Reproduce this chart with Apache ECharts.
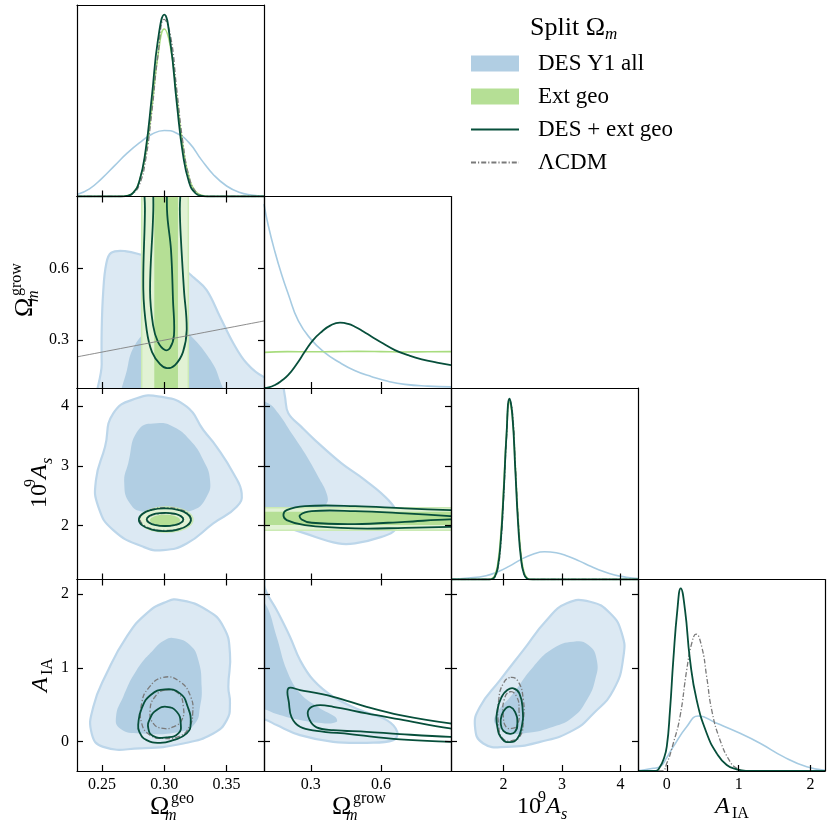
<!DOCTYPE html>
<html>
<head>
<meta charset="utf-8">
<script src="https://cdn.jsdelivr.net/npm/echarts@6/dist/echarts.min.js"></script>
<style>html,body{margin:0;padding:0;background:#fff}#chart{width:830px;height:830px}</style>
</head>
<body>
<div id="chart"></div>
<script>
const SERIF = "'Liberation Serif', 'DejaVu Serif', serif";

// axis limits and ticks
const omGeoRange = [0.23, 0.38];
const omGrowRange = [0.1, 0.9];
const asRange = [1.1, 4.3];
const aiaRange = [-0.4, 2.2];
const diagRange = [0, 1];
const omGeoTicks = [0.25, 0.30, 0.35];
const omGrowTicks = [0.3, 0.6];
const asTicks = [2, 3, 4];
const aiaTicks = [0, 1, 2];

// legend labels
const legendNames = ['DES Y1 all', 'Ext geo', 'DES + ext geo', 'ΛCDM'];

// 1D marginals [x, relative density]
const geo1D_des = [[0.23,0.01],[0.24,0.04],[0.25,0.095],[0.26,0.16],[0.27,0.225],[0.28,0.28],[0.29,0.325],[0.30,0.345],[0.31,0.33],[0.32,0.28],[0.33,0.19],[0.34,0.11],[0.35,0.055],[0.36,0.022],[0.37,0.008],[0.38,0.003]];
const geo1D_ext = [[0.23,0],[0.265,0],[0.27,0.004],[0.275,0.02],[0.28,0.08],[0.285,0.22],[0.29,0.46],[0.295,0.74],[0.30,0.875],[0.305,0.78],[0.31,0.52],[0.315,0.26],[0.32,0.097],[0.325,0.027],[0.33,0.006],[0.335,0],[0.38,0]];
const geo1D_lcdm = [[0.23,0],[0.265,0],[0.27,0.003],[0.275,0.016],[0.28,0.06],[0.285,0.19],[0.29,0.44],[0.295,0.74],[0.30,0.925],[0.305,0.84],[0.31,0.56],[0.315,0.28],[0.32,0.10],[0.325,0.027],[0.33,0.005],[0.335,0],[0.38,0]];
const geo1D_comb = [[0.23,0],[0.265,0],[0.27,0.0035],[0.275,0.019],[0.28,0.08],[0.285,0.24],[0.29,0.52],[0.295,0.82],[0.30,0.95],[0.305,0.80],[0.31,0.49],[0.315,0.22],[0.32,0.072],[0.325,0.017],[0.33,0.003],[0.335,0],[0.38,0]];

const grow1D_des = [[0.1,0.96],[0.118,0.85],[0.147,0.71],[0.176,0.59],[0.204,0.49],[0.247,0.35],[0.304,0.25],[0.36,0.185],[0.418,0.137],[0.49,0.09],[0.561,0.059],[0.63,0.035],[0.703,0.019],[0.8,0.01],[0.9,0.006]];
const grow1D_ext = [[0.1,0.186],[0.2,0.19],[0.3,0.189],[0.4,0.19],[0.5,0.191],[0.6,0.19],[0.7,0.188],[0.8,0.189],[0.9,0.19]];
const grow1D_comb = [[0.1,0],[0.12,0.003],[0.147,0.016],[0.175,0.038],[0.204,0.068],[0.24,0.125],[0.275,0.19],[0.31,0.25],[0.347,0.294],[0.385,0.327],[0.425,0.341],[0.46,0.335],[0.489,0.32],[0.525,0.295],[0.561,0.268],[0.61,0.232],[0.66,0.198],[0.72,0.17],[0.775,0.15],[0.84,0.133],[0.9,0.12]];

const as1D_des = [[1.1,0.003],[1.4,0.008],[1.7,0.02],[1.9,0.04],[2.1,0.07],[2.3,0.105],[2.5,0.132],[2.7,0.145],[2.9,0.14],[3.1,0.122],[3.3,0.096],[3.5,0.068],[3.7,0.043],[3.9,0.024],[4.1,0.012],[4.3,0.005]];
const as1D_ext = [[1.1,0],[1.75,0],[1.8,0.0045],[1.85,0.022],[1.9,0.081],[1.95,0.225],[2.0,0.475],[2.05,0.76],[2.1,0.925],[2.15,0.851],[2.2,0.594],[2.25,0.314],[2.3,0.126],[2.35,0.038],[2.4,0.009],[2.45,0.0015],[2.5,0],[4.3,0]];
const as1D_lcdm = [[1.1,0],[1.75,0],[1.8,0.002],[1.85,0.012],[1.9,0.054],[1.95,0.176],[2.0,0.42],[2.05,0.735],[2.1,0.94],[2.15,0.88],[2.2,0.61],[2.25,0.31],[2.3,0.115],[2.35,0.031],[2.4,0.006],[2.45,0.001],[2.5,0],[4.3,0]];
const as1D_comb = [[1.1,0],[1.75,0],[1.8,0.0025],[1.85,0.015],[1.9,0.062],[1.95,0.195],[2.0,0.448],[2.05,0.757],[2.1,0.944],[2.15,0.857],[2.2,0.574],[2.25,0.282],[2.3,0.102],[2.35,0.027],[2.4,0.005],[2.45,0.0005],[2.5,0],[4.3,0]];

const aia1D_des = [[-0.4,0.002],[-0.35,0.004],[-0.187,0.014],[-0.094,0.022],[0,0.07],[0.091,0.127],[0.277,0.231],[0.439,0.287],[0.695,0.249],[1.019,0.197],[1.297,0.145],[1.62,0.075],[1.946,0.022],[2.2,0.004]];
const aia1D_lcdm = [[-0.4,0],[-0.07,0],[0,0.04],[0.091,0.145],[0.184,0.284],[0.277,0.527],[0.347,0.667],[0.407,0.715],[0.486,0.649],[0.555,0.492],[0.625,0.318],[0.74,0.162],[0.88,0.049],[0.973,0.014],[1.1,0],[2.2,0]];
const aia1D_comb = [[-0.4,0],[-0.15,0],[-0.094,0.022],[-0.048,0.057],[0,0.127],[0.045,0.318],[0.091,0.58],[0.147,0.84],[0.194,0.954],[0.254,0.84],[0.323,0.58],[0.416,0.37],[0.555,0.197],[0.695,0.092],[0.834,0.031],[0.973,0.009],[1.1,0.001],[2.2,0]];

// 2D contours (outer = 95%, inner = 68%), [x, y] vertices
const geoGrow_des1 = [[0.2505,0.0],[0.2498,0.2],[0.2498,0.34],[0.2510,0.50],[0.2535,0.62],[0.2575,0.665],[0.2685,0.672],[0.2845,0.652],[0.3010,0.628],[0.3126,0.607],[0.3240,0.560],[0.3340,0.509],[0.3447,0.398],[0.3554,0.287],[0.3661,0.203],[0.3795,0.147],[0.40,0.12],[0.42,0.0]];
const geoGrow_des2 = [[0.2677,0.0],[0.2709,0.196],[0.2765,0.28],[0.2870,0.342],[0.2982,0.376],[0.3110,0.363],[0.3230,0.309],[0.3343,0.238],[0.3431,0.154],[0.3480,0.0]];
const geoGrow_ext1 = [[0.2819,-0.1],[0.2819,1.1],[0.3193,1.1],[0.3193,-0.1]];
const geoGrow_ext2 = [[0.2920,-0.1],[0.2920,1.1],[0.3110,1.1],[0.3110,-0.1]];
const geoGrow_comb1 = [[0.2845,1.2],[0.2845,0.844],[0.2832,0.51],[0.2859,0.342],[0.2902,0.25],[0.2966,0.2],[0.3022,0.183],[0.3086,0.196],[0.3150,0.25],[0.3180,0.342],[0.3158,0.51],[0.3134,0.718],[0.3125,0.844],[0.3125,1.2]];
const geoGrow_comb2 = [[0.2915,1.2],[0.2912,0.844],[0.2886,0.51],[0.2910,0.363],[0.2950,0.292],[0.3006,0.259],[0.3046,0.267],[0.3078,0.321],[0.3070,0.468],[0.3054,0.677],[0.3022,0.844],[0.3019,1.2]];
const equalityLine = [[0.23,0.23],[0.38,0.38]];

const geoAs_des1 = [[0.2779,4.128],[0.2966,4.155],[0.3180,3.987],[0.3313,3.598],[0.3420,3.318],[0.3554,2.874],[0.3621,2.539],[0.3581,2.315],[0.3393,2.037],[0.3180,1.703],[0.2992,1.591],[0.2832,1.646],[0.2591,1.925],[0.2471,2.315],[0.2452,2.762],[0.2525,3.318],[0.2591,3.877]];
const geoAs_des2 = [[0.2939,3.71],[0.3072,3.653],[0.3206,3.43],[0.3313,3.096],[0.3367,2.762],[0.3340,2.482],[0.3233,2.26],[0.3046,2.232],[0.2832,2.232],[0.2725,2.372],[0.2679,2.706],[0.2711,3.041],[0.2792,3.598]];
const geoAs_ext1 = [[0.3230,2.10],[0.3201,2.205],[0.3123,2.282],[0.3015,2.31],[0.2908,2.282],[0.2829,2.205],[0.2800,2.10],[0.2829,1.995],[0.2908,1.918],[0.3015,1.89],[0.3123,1.918],[0.3201,1.995]];
const geoAs_ext2 = [[0.3126,2.09],[0.3110,2.136],[0.3066,2.17],[0.3006,2.182],[0.2946,2.17],[0.2902,2.136],[0.2886,2.09],[0.2902,2.044],[0.2946,2.01],[0.3006,1.998],[0.3066,2.01],[0.3110,2.044]];
const geoAs_lcdm1 = [[0.3215,2.11],[0.3188,2.205],[0.3113,2.275],[0.301,2.30],[0.2908,2.275],[0.2832,2.205],[0.2805,2.11],[0.2832,2.015],[0.2908,1.945],[0.301,1.92],[0.3113,1.945],[0.3188,2.015]];
const geoAs_lcdm2 = [[0.3155,2.10],[0.3136,2.153],[0.3083,2.191],[0.301,2.205],[0.2938,2.191],[0.2884,2.153],[0.2865,2.10],[0.2884,2.048],[0.2938,2.009],[0.301,1.995],[0.3083,2.009],[0.3136,2.048]];
const geoAs_comb1 = [[0.3214,2.10],[0.3186,2.195],[0.3110,2.265],[0.3005,2.29],[0.2900,2.265],[0.2824,2.195],[0.2796,2.10],[0.2824,2.005],[0.2900,1.935],[0.3005,1.91],[0.3110,1.935],[0.3186,2.005]];
const geoAs_comb2 = [[0.3153,2.104],[0.3133,2.159],[0.3080,2.199],[0.3006,2.214],[0.2932,2.199],[0.2879,2.159],[0.2859,2.104],[0.2879,2.049],[0.2932,2.009],[0.3006,1.994],[0.3080,2.009],[0.3133,2.049]];

const growAs_des1 = [[0.05,4.6],[0.16,4.6],[0.177,4.434],[0.19,4.15],[0.204,3.877],[0.26,3.65],[0.318,3.43],[0.432,3.041],[0.532,2.762],[0.632,2.427],[0.675,2.148],[0.66,1.925],[0.603,1.813],[0.489,1.703],[0.418,1.703],[0.275,1.87],[0.147,2.037],[0.097,2.093],[0.05,2.1]];
const growAs_des2 = [[0.05,2.32],[0.204,2.29],[0.318,2.29],[0.368,2.372],[0.368,2.539],[0.332,2.817],[0.275,3.208],[0.218,3.543],[0.161,3.877],[0.118,4.044],[0.05,4.1]];
const growAs_ext1 = [[0.05,2.298],[1.0,2.298],[1.0,1.925],[0.05,1.925]];
const growAs_ext2 = [[0.05,2.232],[1.0,2.232],[1.0,2.009],[0.05,2.009]];
const growAs_comb1 = [[0.183,2.176],[0.197,2.26],[0.275,2.327],[0.489,2.327],[0.703,2.288],[0.896,2.26],[1.0,2.25],[1.0,1.98],[0.896,1.98],[0.703,1.963],[0.489,1.954],[0.275,2.009],[0.197,2.093]];
const growAs_comb2 = [[0.254,2.176],[0.304,2.243],[0.489,2.243],[0.703,2.205],[0.896,2.16],[1.0,2.14],[1.0,2.09],[0.896,2.104],[0.703,2.064],[0.489,2.026],[0.304,2.048],[0.261,2.104]];

const geoAia_des1 = [[0.3126,1.921],[0.334,1.786],[0.3474,1.559],[0.3527,1.197],[0.3514,0.744],[0.3527,0.518],[0.3501,0.291],[0.3393,0.11],[0.3153,-0.026],[0.2805,-0.093],[0.2511,-0.072],[0.2418,0.11],[0.2431,0.472],[0.2538,0.926],[0.2699,1.423],[0.2859,1.741],[0.3019,1.898]];
const geoAia_des2 = [[0.3086,1.401],[0.3206,1.31],[0.3273,1.106],[0.33,0.744],[0.3287,0.472],[0.3247,0.246],[0.3126,0.132],[0.2805,0.11],[0.2645,0.178],[0.2613,0.336],[0.2671,0.608],[0.2779,0.97],[0.2912,1.242],[0.3006,1.378]];
const geoAia_lcdm1 = [[0.2992,0.871],[0.3126,0.812],[0.3212,0.608],[0.3228,0.382],[0.3201,0.2],[0.3126,0.074],[0.2992,0.042],[0.2886,0.087],[0.2819,0.246],[0.2819,0.518],[0.2872,0.722]];
const geoAia_lcdm2 = [[0.3006,0.699],[0.3113,0.654],[0.3153,0.472],[0.314,0.291],[0.3072,0.2],[0.2992,0.178],[0.2912,0.246],[0.2886,0.427],[0.2926,0.608]];
const geoAia_comb1 = [[0.3006,0.708],[0.3126,0.654],[0.3188,0.472],[0.3212,0.246],[0.318,0.11],[0.3072,0.019],[0.2966,-0.017],[0.2859,0.019],[0.28,0.132],[0.2792,0.246],[0.2819,0.45],[0.2891,0.631]];
const geoAia_comb2 = [[0.3019,0.472],[0.31,0.404],[0.3132,0.246],[0.3113,0.11],[0.3019,0.056],[0.2912,0.074],[0.2872,0.178],[0.2886,0.314],[0.2939,0.427]];

const growAia_des1 = [[0.05,2.3],[0.1,2.3],[0.104,2.08],[0.154,1.786],[0.211,1.423],[0.254,1.106],[0.311,0.834],[0.396,0.608],[0.511,0.427],[0.625,0.291],[0.67,0.132],[0.653,0.019],[0.539,-0.017],[0.396,-0.004],[0.254,0.087],[0.154,0.223],[0.104,0.3],[0.05,0.32]];
const growAia_des2 = [[0.05,1.95],[0.104,1.877],[0.154,1.423],[0.197,0.97],[0.254,0.654],[0.34,0.45],[0.404,0.336],[0.411,0.268],[0.361,0.246],[0.254,0.291],[0.154,0.373],[0.104,0.436],[0.05,0.45]];
const growAia_comb1 = [[0.204,0.722],[0.254,0.699],[0.396,0.608],[0.539,0.472],[0.682,0.359],[0.896,0.246],[1.0,0.22],[1.0,-0.01],[0.896,-0.004],[0.682,0.029],[0.468,0.101],[0.325,0.146],[0.254,0.2],[0.218,0.328],[0.207,0.518]];
const growAia_comb2 = [[0.29,0.427],[0.325,0.49],[0.396,0.472],[0.539,0.382],[0.682,0.30],[0.896,0.178],[1.0,0.16],[1.0,0.06],[0.896,0.064],[0.682,0.101],[0.539,0.132],[0.396,0.155],[0.325,0.192],[0.294,0.30]];

const asAia_des1 = [[3.48,1.898],[3.823,1.741],[4.023,1.469],[4.05,1.151],[3.879,0.699],[3.537,0.382],[3.194,0.155],[2.624,-0.004],[2.054,-0.072],[1.653,-0.026],[1.511,0.2],[1.597,0.472],[1.939,0.834],[2.338,1.242],[2.739,1.65],[3.081,1.877]];
const asAia_des2 = [[3.194,1.355],[3.451,1.31],[3.595,1.106],[3.566,0.834],[3.424,0.563],[3.194,0.336],[2.852,0.2],[2.338,0.11],[2.054,0.132],[1.853,0.246],[1.883,0.382],[2.167,0.654],[2.509,1.015],[2.852,1.265]];
const asAia_lcdm1 = [[2.122,0.871],[2.252,0.812],[2.338,0.563],[2.338,0.291],[2.281,0.074],[2.122,0.01],[1.985,0.042],[1.917,0.2],[1.917,0.563],[1.996,0.79]];
const asAia_lcdm2 = [[2.11,0.676],[2.225,0.608],[2.264,0.427],[2.236,0.223],[2.139,0.178],[2.042,0.2],[1.996,0.336],[2.008,0.563]];
const asAia_comb1 = [[2.167,0.722],[2.27,0.654],[2.327,0.427],[2.31,0.2],[2.236,0.042],[2.11,-0.008],[1.978,0.033],[1.893,0.2],[1.893,0.427],[1.968,0.608],[2.064,0.699]];
const asAia_comb2 = [[2.11,0.472],[2.196,0.404],[2.236,0.246],[2.196,0.132],[2.11,0.105],[1.996,0.146],[1.951,0.246],[1.968,0.359],[2.037,0.45]];

// colours
const BLUE_LINE = '#a6cbe2', BLUE_OUT = '#dce9f3', BLUE_IN = '#b1cee3', BLUE_EDGE = '#bcd6ea';
const GREEN_LINE = '#a8dc7e', GREEN_OUT = '#e1f2d4', GREEN_IN = '#b5df95', GREEN_EDGE = '#cbeab4';
const DKGREEN = '#074f3b', GREY = '#7a7a7a';
const DASHDOT = [5, 2, 1.2, 2];

// panel layout
const COL_X = [77, 264, 451, 638], ROW_Y = [5, 196.5, 388, 579.5];
const PANEL_W = 187, PANEL_H = 191.5;
const params = [
  { range: omGeoRange, ticks: omGeoTicks, digits: 2 },
  { range: omGrowRange, ticks: omGrowTicks, digits: 1 },
  { range: asRange, ticks: asTicks, digits: 0 },
  { range: aiaRange, ticks: aiaTicks, digits: 0 }
];

function makeAxis(g, position, p, ticks, labels) {
  const lim = p ? p.range : diagRange;
  const vals = p ? p.ticks : undefined;
  return {
    type: 'value', gridIndex: g, position: position, min: lim[0], max: lim[1], z: 10,
    axisLine: { show: true, onZero: false, lineStyle: { color: '#000', width: 1.2 } },
    axisTick: { show: ticks, inside: true, length: 6, customValues: vals, lineStyle: { color: '#000', width: 1.2 } },
    axisLabel: {
      show: labels, customValues: vals, margin: position === 'left' ? 8 : 6,
      formatter: v => p ? Number(v).toFixed(p.digits) : '',
      fontFamily: SERIF, fontSize: 16, color: '#000'
    },
    splitLine: { show: false }
  };
}

const grids = [], xAxes = [], yAxes = [], panelOf = {};
for (let r = 0; r < 4; r++) {
  for (let c = 0; c <= r; c++) {
    const g = grids.length;
    panelOf[r + '_' + c] = g;
    grids.push({ left: COL_X[c], top: ROW_Y[r], width: PANEL_W, height: PANEL_H });
    const diag = r === c;
    xAxes.push(makeAxis(g, 'bottom', params[c], true, r === 3));
    xAxes.push(makeAxis(g, 'top', params[c], !diag, false));
    const py = diag ? null : params[r];
    yAxes.push(makeAxis(g, 'left', py, !diag, c === 0));
    yAxes.push(makeAxis(g, 'right', py, !diag, false));
  }
}
const P = (r, c) => panelOf[r + '_' + c];

function curve(g, data, color, width, dash, name) {
  return {
    type: 'line', name: name, xAxisIndex: 2 * g, yAxisIndex: 2 * g, data: data,
    symbol: 'none', showSymbol: false, smooth: 0.5, silent: true, z: 3,
    lineStyle: { color: color, width: width, type: dash || 'solid' },
    itemStyle: { color: color }
  };
}

function region(g, pts, style, smooth, name) {
  return {
    type: 'custom', name: name, xAxisIndex: 2 * g, yAxisIndex: 2 * g, data: pts, silent: true, z: 2,
    itemStyle: { color: style.fill !== 'none' ? style.fill : style.stroke },
    renderItem: function (params, api) {
      if (params.dataIndex !== 0) return null;
      const cs = params.coordSys;
      return {
        type: 'group',
        clipPath: { type: 'rect', shape: { x: cs.x, y: cs.y, width: cs.width, height: cs.height } },
        children: [{ type: 'polygon', shape: { points: pts.map(p => api.coord(p)), smooth: smooth }, style: style }]
      };
    }
  };
}

const desOuter = { fill: BLUE_OUT, stroke: BLUE_EDGE, lineWidth: 2.2 };
const desInner = { fill: BLUE_IN, stroke: 'none' };
const extOuter = { fill: GREEN_OUT, stroke: GREEN_EDGE, lineWidth: 1.5 };
const extInner = { fill: GREEN_IN, stroke: 'none' };
const combLine = { fill: 'none', stroke: DKGREEN, lineWidth: 1.8 };
const lcdmLine = { fill: 'none', stroke: GREY, lineWidth: 1.3, lineDash: DASHDOT };

const series = [];
// diagonal: Omega_m^geo
series.push(curve(P(0,0), geo1D_des, BLUE_LINE, 1.6));
series.push(curve(P(0,0), geo1D_ext, GREEN_LINE, 1.6));
series.push(curve(P(0,0), geo1D_lcdm, GREY, 1.3, DASHDOT, legendNames[3]));
series.push(curve(P(0,0), geo1D_comb, DKGREEN, 1.8, null, legendNames[2]));
// Omega_grow vs Omega_geo
series.push(region(P(1,0), geoGrow_des1, desOuter, 0.4));
series.push(region(P(1,0), geoGrow_des2, desInner, 0.4, legendNames[0]));
series.push(region(P(1,0), geoGrow_ext1, extOuter, 0));
series.push(region(P(1,0), geoGrow_ext2, extInner, 0, legendNames[1]));
series.push(region(P(1,0), geoGrow_comb1, combLine, 0.4));
series.push(region(P(1,0), geoGrow_comb2, combLine, 0.4));
series.push(curve(P(1,0), equalityLine, '#808080', 0.9));
// diagonal: Omega_m^grow
series.push(curve(P(1,1), grow1D_des, BLUE_LINE, 1.6));
series.push(curve(P(1,1), grow1D_ext, GREEN_LINE, 1.6));
series.push(curve(P(1,1), grow1D_comb, DKGREEN, 1.8));
// A_s vs Omega_geo
series.push(region(P(2,0), geoAs_des1, desOuter, 0.5));
series.push(region(P(2,0), geoAs_des2, desInner, 0.5));
series.push(region(P(2,0), geoAs_ext1, extOuter, 0.5));
series.push(region(P(2,0), geoAs_ext2, extInner, 0.5));
series.push(region(P(2,0), geoAs_lcdm1, lcdmLine, 0.5));
series.push(region(P(2,0), geoAs_lcdm2, lcdmLine, 0.5));
series.push(region(P(2,0), geoAs_comb1, combLine, 0.5));
series.push(region(P(2,0), geoAs_comb2, combLine, 0.5));
// A_s vs Omega_grow
series.push(region(P(2,1), growAs_des1, desOuter, 0.4));
series.push(region(P(2,1), growAs_des2, desInner, 0.4));
series.push(region(P(2,1), growAs_ext1, extOuter, 0));
series.push(region(P(2,1), growAs_ext2, extInner, 0));
series.push(region(P(2,1), growAs_comb1, combLine, 0.4));
series.push(region(P(2,1), growAs_comb2, combLine, 0.4));
// diagonal: A_s
series.push(curve(P(2,2), as1D_des, BLUE_LINE, 1.6));
series.push(curve(P(2,2), as1D_ext, GREEN_LINE, 1.6));
series.push(curve(P(2,2), as1D_lcdm, GREY, 1.3, DASHDOT));
series.push(curve(P(2,2), as1D_comb, DKGREEN, 1.8));
// A_IA vs Omega_geo
series.push(region(P(3,0), geoAia_des1, desOuter, 0.5));
series.push(region(P(3,0), geoAia_des2, desInner, 0.5));
series.push(region(P(3,0), geoAia_lcdm1, lcdmLine, 0.5));
series.push(region(P(3,0), geoAia_lcdm2, lcdmLine, 0.5));
series.push(region(P(3,0), geoAia_comb1, combLine, 0.5));
series.push(region(P(3,0), geoAia_comb2, combLine, 0.5));
// A_IA vs Omega_grow
series.push(region(P(3,1), growAia_des1, desOuter, 0.4));
series.push(region(P(3,1), growAia_des2, desInner, 0.4));
series.push(region(P(3,1), growAia_comb1, combLine, 0.4));
series.push(region(P(3,1), growAia_comb2, combLine, 0.4));
// A_IA vs A_s
series.push(region(P(3,2), asAia_des1, desOuter, 0.5));
series.push(region(P(3,2), asAia_des2, desInner, 0.5));
series.push(region(P(3,2), asAia_lcdm1, lcdmLine, 0.5));
series.push(region(P(3,2), asAia_lcdm2, lcdmLine, 0.5));
series.push(region(P(3,2), asAia_comb1, combLine, 0.5));
series.push(region(P(3,2), asAia_comb2, combLine, 0.5));
// diagonal: A_IA
series.push(curve(P(3,3), aia1D_des, BLUE_LINE, 1.6));
series.push(curve(P(3,3), aia1D_lcdm, GREY, 1.3, DASHDOT));
series.push(curve(P(3,3), aia1D_comb, DKGREEN, 1.8));

// axis titles with sub/superscripts
function mathLabel(x, y, rotation, parts) {
  return {
    type: 'group', x: x, y: y, rotation: rotation, silent: true,
    children: parts.map(p => ({
      type: 'text', x: p[1], y: p[2],
      style: { text: p[0], fontFamily: SERIF, fontSize: p[3], fontStyle: p[4] ? 'italic' : 'normal',
               fill: '#000', verticalAlign: 'middle', align: 'left' }
    }))
  };
}
const R90 = Math.PI / 2;
const graphics = [
  mathLabel(150, 807, 0, [['Ω', 0, 0, 26], ['geo', 21, -8, 16], ['m', 15, 9, 16, true]]),
  mathLabel(332, 807, 0, [['Ω', 0, 0, 26], ['grow', 21, -8, 16], ['m', 14, 9, 16, true]]),
  mathLabel(517, 807, 0, [['10', 0, 0, 24], ['9', 21, -9, 16], ['A', 29, 0, 24, true], ['s', 44, 8, 16, true]]),
  mathLabel(715, 807, 0, [['A', 0, 0, 24, true], ['IA', 17, 7, 16]]),
  mathLabel(25, 317, R90, [['Ω', 0, 0, 26], ['grow', 21, -8, 16], ['m', 15, 9, 16, true]]),
  mathLabel(40, 508, R90, [['10', 0, 0, 24], ['9', 21, -9, 16], ['A', 29, 0, 24, true], ['s', 44, 8, 16, true]]),
  mathLabel(41, 692, R90, [['A', 0, 0, 24, true], ['IA', 17, 7, 16]])
];

const hiddenMarker = { color: 'rgba(0,0,0,0)', borderWidth: 0, opacity: 0 };
const chart = echarts.init(document.getElementById('chart'), null, { renderer: 'canvas' });
chart.setOption({
  animation: false,
  backgroundColor: '#fff',
  textStyle: { fontFamily: SERIF },
  title: {
    text: '{a|Split Ω}{b|m}', left: 530, top: 13, padding: 0,
    textStyle: { fontWeight: 'normal', rich: {
      a: { fontFamily: SERIF, fontSize: 26, fontWeight: 'normal', color: '#000', lineHeight: 30 },
      b: { fontFamily: SERIF, fontSize: 17, fontWeight: 'normal', fontStyle: 'italic', color: '#000', lineHeight: 17, verticalAlign: 'bottom' }
    } }
  },
  legend: {
    orient: 'vertical', left: 470, top: 52, padding: 0, itemWidth: 48, itemHeight: 16, itemGap: 10,
    selectedMode: false,
    textStyle: { fontFamily: SERIF, fontSize: 23, color: '#000', lineHeight: 22, padding: [0, 0, 0, 14] },
    data: [
      { name: legendNames[0], icon: 'rect', itemStyle: { color: BLUE_IN, borderWidth: 0 } },
      { name: legendNames[1], icon: 'rect', itemStyle: { color: GREEN_IN, borderWidth: 0 } },
      { name: legendNames[2], itemStyle: hiddenMarker },
      { name: legendNames[3], itemStyle: hiddenMarker }
    ]
  },
  grid: grids,
  xAxis: xAxes,
  yAxis: yAxes,
  series: series,
  graphic: graphics
});
</script>
</body>
</html>
